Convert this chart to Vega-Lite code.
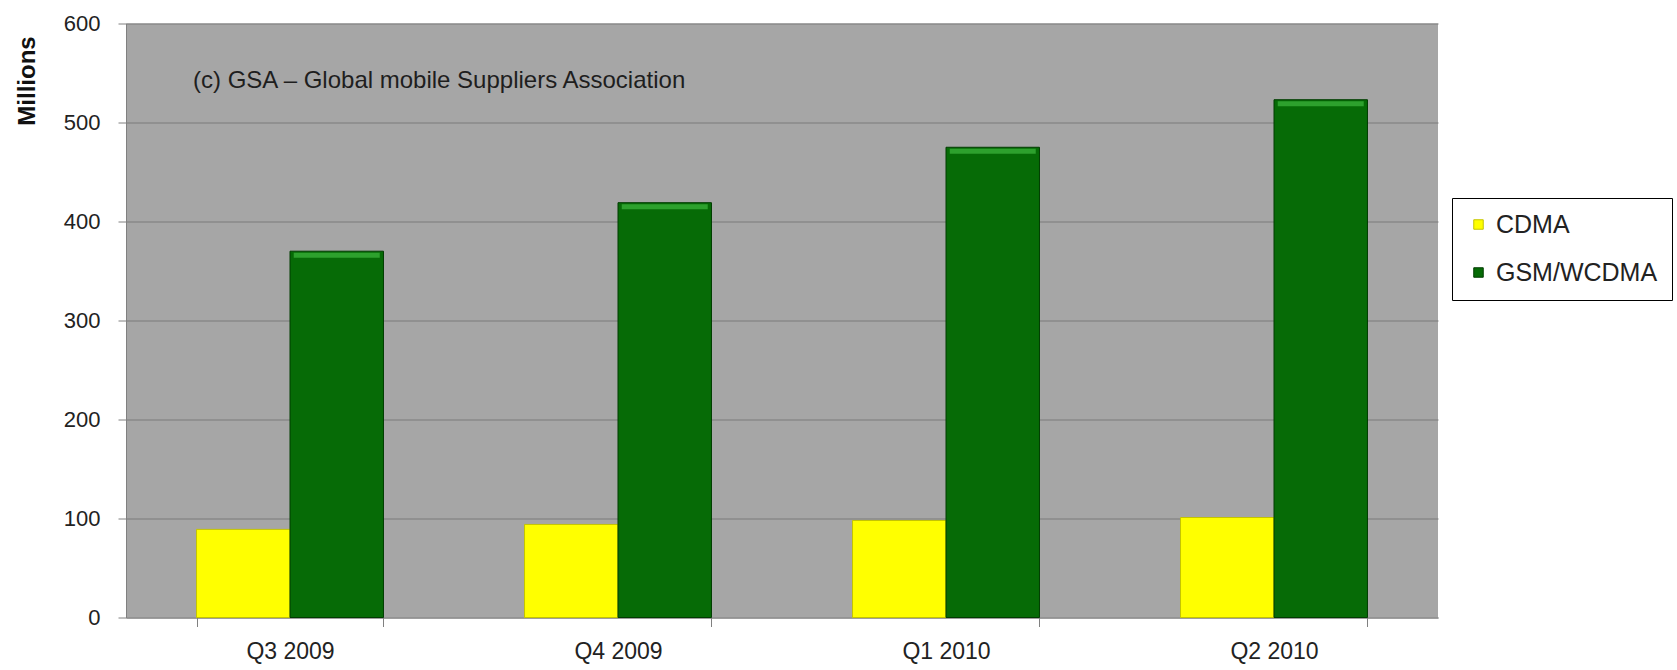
{
  "$schema": "https://vega.github.io/schema/vega-lite/v6.json",
  "width": 1312,
  "height": 594,
  "autosize": {"type": "none"},
  "padding": {"left": 126, "top": 23.5, "right": 239, "bottom": 52.5},
  "background": "white",
  "config": {
    "view": {"fill": "#A6A6A6", "stroke": null},
    "font": "Liberation Sans"
  },
  "title": {
    "text": "(c) GSA – Global mobile Suppliers Association",
    "anchor": "start",
    "frame": "group",
    "offset": 0,
    "dx": 67,
    "dy": 92,
    "baseline": "middle",
    "fontSize": 24,
    "fontWeight": "normal",
    "color": "#1e1e1e",
    "font": "Liberation Sans"
  },
  "data": {
    "values": [
      {"quarter": "Q3 2009", "series": "CDMA", "subscribers": 89},
      {"quarter": "Q3 2009", "series": "GSM/WCDMA", "subscribers": 370},
      {"quarter": "Q4 2009", "series": "CDMA", "subscribers": 94},
      {"quarter": "Q4 2009", "series": "GSM/WCDMA", "subscribers": 419},
      {"quarter": "Q1 2010", "series": "CDMA", "subscribers": 98},
      {"quarter": "Q1 2010", "series": "GSM/WCDMA", "subscribers": 475},
      {"quarter": "Q2 2010", "series": "CDMA", "subscribers": 101},
      {"quarter": "Q2 2010", "series": "GSM/WCDMA", "subscribers": 523}
    ]
  },
  "layer": [
    {
      "mark": {"type": "bar", "strokeWidth": 1},
      "encoding": {
        "x": {
          "field": "quarter",
          "type": "nominal",
          "sort": null,
          "scale": {"paddingInner": 0.43, "paddingOuter": 0.215},
          "axis": {
            "title": null,
            "labelAngle": 0,
            "labelFontSize": 23,
            "labelColor": "#222222",
            "labelPadding": 14,
            "tickBand": "extent",
            "tickSize": 9,
            "tickColor": "#808080",
            "domainColor": "#808080",
            "grid": false
          }
        },
        "xOffset": {
          "field": "series",
          "type": "nominal",
          "sort": ["CDMA", "GSM/WCDMA"],
          "scale": {"paddingInner": 0, "paddingOuter": 0}
        },
        "y": {
          "field": "subscribers",
          "type": "quantitative",
          "scale": {"domain": [0, 600], "nice": false},
          "axis": {
            "title": "Millions",
            "titleFontSize": 24,
            "titleFontWeight": "bold",
            "titleColor": "#111111",
            "titleAngle": 270,
            "titleX": -99,
            "titleY": 57,
            "titleAlign": "center",
            "titleBaseline": "middle",
            "values": [0, 100, 200, 300, 400, 500, 600],
            "labelFontSize": 22,
            "labelColor": "#222222",
            "labelPadding": 18,
            "tickSize": 8,
            "tickColor": "#808080",
            "domainColor": "#808080",
            "gridColor": "#7a7a7a",
            "gridWidth": 1.2
          }
        },
        "color": {
          "field": "series",
          "type": "nominal",
          "scale": {"domain": ["CDMA", "GSM/WCDMA"], "range": ["#FFFF00", "#066B06"]},
          "legend": {
            "orient": "none",
            "legendX": 1326,
            "legendY": 174.5,
            "title": null,
            "fillColor": "white",
            "strokeColor": "#000000",
            "padding": 14,
            "symbolType": "square",
            "symbolSize": 90,
            "symbolStrokeWidth": 1,
            "labelFontSize": 25,
            "labelLimit": 400,
            "labelColor": "#222222",
            "labelOffset": 5,
            "rowPadding": 22
          }
        },
        "stroke": {
          "field": "series",
          "type": "nominal",
          "scale": {"domain": ["CDMA", "GSM/WCDMA"], "range": ["#C4C400", "#013D01"]},
          "legend": null
        }
      }
    },
    {
      "transform": [{"filter": "datum.series === 'GSM/WCDMA'"}],
      "mark": {"type": "tick", "color": "#3FB83F", "thickness": 5, "size": 86, "yOffset": 4},
      "encoding": {
        "x": {"field": "quarter", "type": "nominal", "sort": null},
        "xOffset": {"field": "series", "type": "nominal", "sort": ["CDMA", "GSM/WCDMA"]},
        "y": {"field": "subscribers", "type": "quantitative"}
      }
    }
  ]
}
